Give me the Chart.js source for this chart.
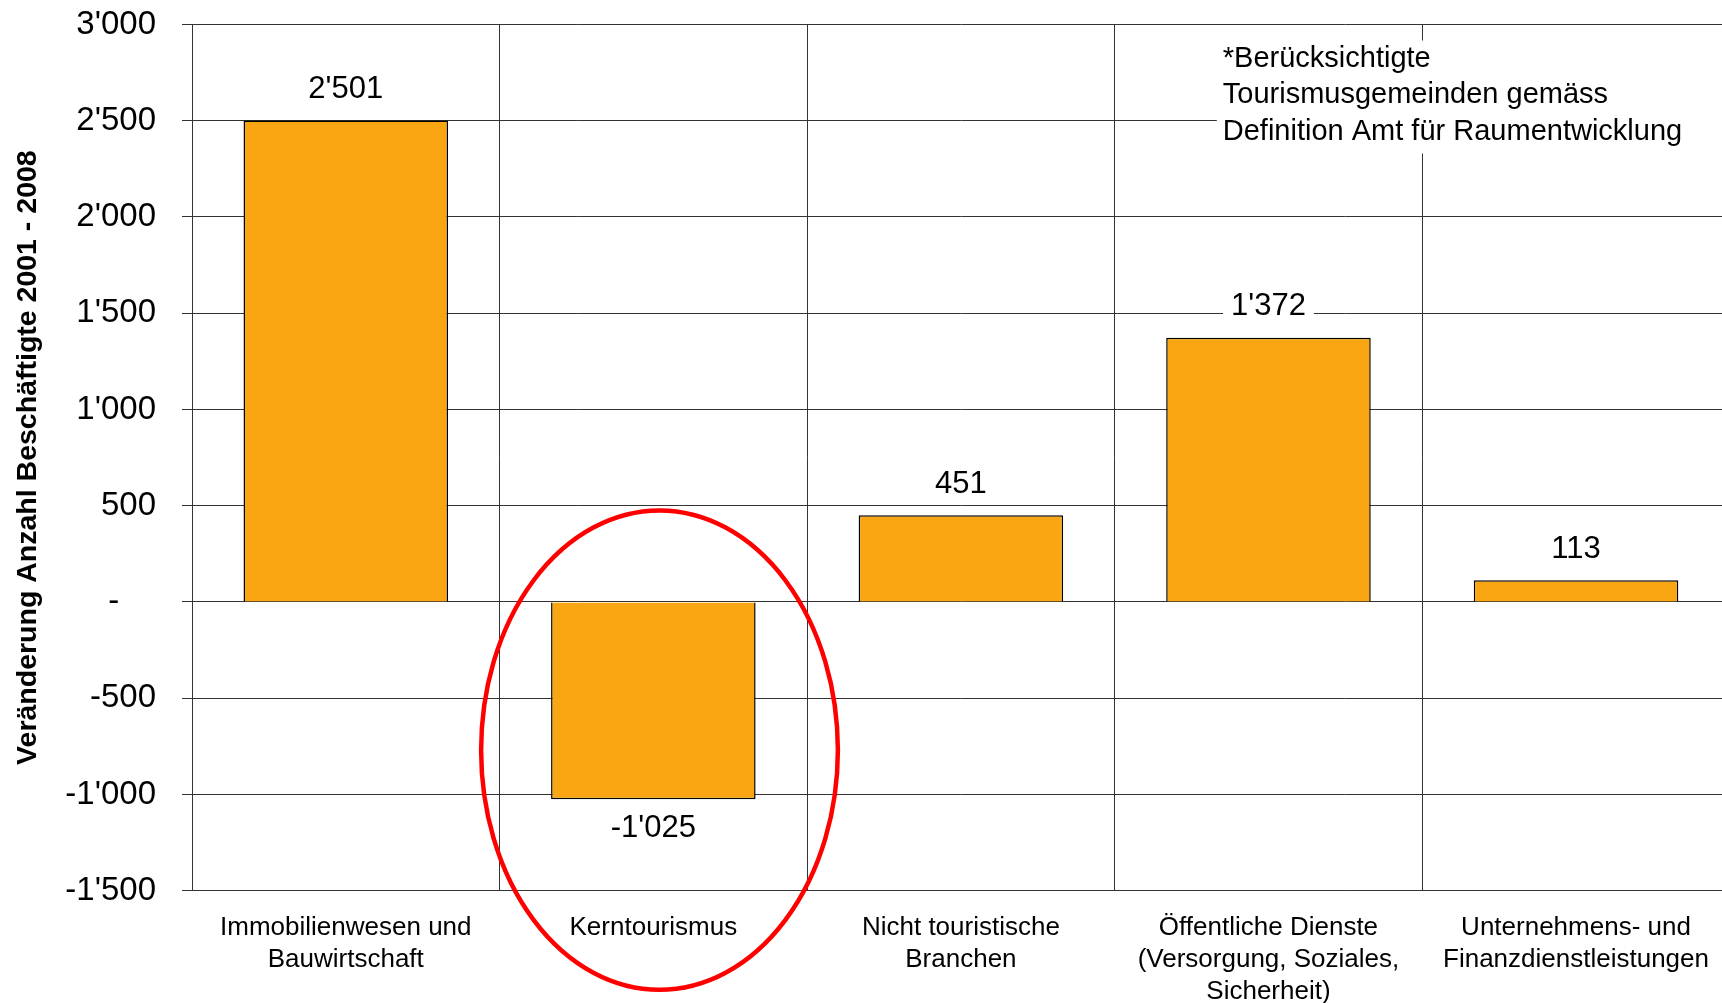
<!DOCTYPE html>
<html>
<head>
<meta charset="utf-8">
<script src="https://cdn.jsdelivr.net/npm/chart.js@4.4.1/dist/chart.umd.min.js"></script>
<style>
  html, body { margin: 0; padding: 0; background: #fff; overflow: hidden; }
  #wrap { width: 1730px; height: 1003px; }
</style>
</head>
<body>
<div id="wrap"><canvas id="chart" width="1730" height="1003"></canvas></div>
<script>
// Daten
const categories = [
  ['Immobilienwesen und', 'Bauwirtschaft'],
  ['Kerntourismus'],
  ['Nicht touristische', 'Branchen'],
  ['Öffentliche Dienste', '(Versorgung, Soziales,', 'Sicherheit)'],
  ['Unternehmens- und', 'Finanzdienstleistungen']
];
const changes = [2501, -1025, 451, 1372, 113];
const tickValues = [3000, 2500, 2000, 1500, 1000, 500, 0, -500, -1000, -1500];
const tickLabels = ["3'000", "2'500", "2'000", "1'500", "1'000", "500", "-    ", "-500", "-1'000", "-1'500"];
const axisTitle = 'Veränderung Anzahl Beschäftigte 2001 - 2008';
const noteLines = ['*Berücksichtigte', 'Tourismusgemeinden gemäss', 'Definition Amt für Raumentwicklung'];
// roter Kreis um Kerntourismus (Kategorie-Index / Wert)
const ring = { category: 1.02, value: -770, halfCats: 0.58, halfValue: 1245 };

const FONT = '"Liberation Sans", Arial, sans-serif';

function fmt(v) {
  const s = Math.abs(v).toString().replace(/\B(?=(\d{3})+(?!\d))/g, "'");
  return (v < 0 ? '-' : '') + s;
}

const extras = {
  id: 'extras',
  afterDatasetsDraw(chart) {
    const ctx = chart.ctx;
    const area = chart.chartArea;
    const meta = chart.getDatasetMeta(0);
    ctx.save();
    ctx.font = '31px ' + FONT;
    ctx.textAlign = 'center';
    ctx.textBaseline = 'middle';
    meta.data.forEach(function (bar, i) {
      const v = changes[i];
      const text = fmt(v);
      const y = v >= 0 ? bar.y - 32 : bar.y + 28;
      const w = ctx.measureText(text).width + 16;
      ctx.fillStyle = '#fff';
      ctx.fillRect(bar.x - w / 2, y - 21, w, 42);
      ctx.fillStyle = '#000';
      ctx.fillText(text, bar.x, y + 1);
    });

    // Hinweis oben rechts
    const bx = area.right - 513;
    const by = area.top + 16;
    ctx.fillStyle = '#fff';
    ctx.fillRect(bx, by, area.right - bx, 113);
    ctx.fillStyle = '#000';
    ctx.font = '29px ' + FONT;
    ctx.textAlign = 'left';
    noteLines.forEach(function (line, i) {
      ctx.fillText(line, bx + 6, area.top + 34 + i * 36.5);
    });
    ctx.restore();
  },
  afterDraw(chart) {
    const ctx = chart.ctx;
    const x = chart.scales.x;
    const y = chart.scales.y;
    const cx = x.getPixelForValue(ring.category);
    const cy = y.getPixelForValue(ring.value);
    const rx = ring.halfCats * (x.getPixelForValue(1) - x.getPixelForValue(0));
    const ry = Math.abs(y.getPixelForValue(ring.value + ring.halfValue) - cy);
    ctx.save();
    ctx.strokeStyle = '#ff0000';
    ctx.lineWidth = 4.5;
    ctx.beginPath();
    ctx.ellipse(cx, cy, rx, ry, 0, 0, Math.PI * 2);
    ctx.stroke();
    ctx.restore();
  }
};

new Chart(document.getElementById('chart'), {
  type: 'bar',
  data: {
    labels: categories,
    datasets: [{
      data: changes,
      backgroundColor: '#FAA613',
      borderColor: '#000',
      borderWidth: 1.5,
      barPercentage: 0.665,
      categoryPercentage: 1
    }]
  },
  options: {
    responsive: false,
    animation: false,
    layout: { padding: { top: 24.5, left: 0, right: 0, bottom: 0 } },
    plugins: {
      legend: { display: false },
      tooltip: { enabled: false }
    },
    scales: {
      x: {
        offset: true,
        grid: { offset: true, color: '#333', lineWidth: 1, drawTicks: false },
        border: { color: '#333', width: 1 },
        ticks: {
          color: '#000',
          font: { family: FONT, size: 26, lineHeight: 1.23 },
          padding: 21,
          maxRotation: 0,
          autoSkip: false
        },
        afterFit(scale) { scale.height = 112.3; }
      },
      y: {
        min: -1500,
        max: 3000,
        grid: { color: '#333', lineWidth: 1, drawTicks: true, tickLength: 10 },
        border: { color: '#333', width: 1 },
        ticks: {
          stepSize: 500,
          color: '#000',
          font: { family: FONT, size: 33 },
          padding: 26,
          callback: function (value) {
            const i = tickValues.indexOf(value);
            return i >= 0 ? tickLabels[i] : '';
          }
        },
        title: {
          display: true,
          text: axisTitle,
          color: '#000',
          font: { family: FONT, size: 28.5, weight: 'bold' },
          padding: { top: 11, bottom: 0 }
        },
        afterFit(scale) {
          scale.width = 192;
          scale.paddingTop = 0;
          scale.paddingBottom = 0;
        }
      }
    }
  },
  plugins: [extras]
});
</script>
</body>
</html>
